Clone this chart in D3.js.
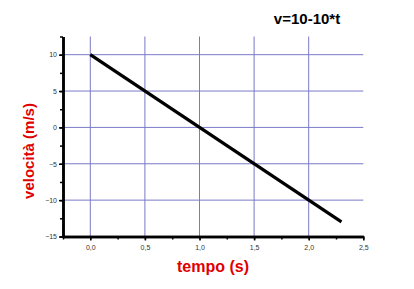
<!DOCTYPE html>
<html><head><meta charset="utf-8">
<script src="https://cdn.jsdelivr.net/npm/d3@7"></script>
<style>body{margin:0;background:#fff;} svg{display:block;}</style>
</head><body>
<svg id="c" width="414" height="289"></svg>
<script>
const tValues = [0, 2.3];
const vValues = [10, -13];
const xTicks = [0, 0.5, 1, 1.5, 2, 2.5];
const yTicks = [-15, -10, -5, 0, 5, 10];
const xGrid = [0, 0.5, 1, 1.5, 2];
const yGrid = [-10, -5, 0, 5, 10];
const title = "v=10-10*t";
const xLabel = "tempo (s)";
const yLabel = "velocità (m/s)";

const svg = d3.select("#c");
const x = d3.scaleLinear().domain([-0.25, 2.5]).range([63, 363.3]);
const y = d3.scaleLinear().domain([-15, 12.5]).range([236.5, 36.5]);
const fmt = d => d3.format(".1f")(d).replace(".", ",");

// grid
svg.append("g").selectAll("line").data(xGrid).join("line")
  .attr("x1", d => x(d)).attr("x2", d => x(d))
  .attr("y1", y(12.5)).attr("y2", y(-15))
  .attr("stroke", "#7a7ac8").attr("stroke-width", 1);
svg.append("g").selectAll("line").data(yGrid).join("line")
  .attr("x1", x(-0.25)).attr("x2", x(2.5))
  .attr("y1", d => y(d)).attr("y2", d => y(d))
  .attr("stroke", "#7a7ac8").attr("stroke-width", 1);

// axes
const xAxis = d3.axisBottom(x).tickValues(xTicks).tickFormat(fmt).tickSize(4).tickSizeOuter(0).tickPadding(5);
const xMinor = d3.axisBottom(x).tickValues(d3.range(-0.25, 2.51, 0.25)).tickFormat("").tickSize(3).tickSizeOuter(0);
const yAxis = d3.axisLeft(y).tickValues(yTicks).tickFormat(d => d3.format("d")(d)).tickSize(4).tickSizeOuter(0).tickPadding(2);
const yMinor = d3.axisLeft(y).tickValues(d3.range(-15, 12.6, 2.5)).tickFormat("").tickSize(3).tickSizeOuter(0);

function style(g){
  g.select(".domain").attr("stroke", "#000").attr("stroke-width", 2.5);
  g.selectAll(".tick line").attr("stroke", "#000").attr("stroke-width", 1.5);
  g.selectAll(".tick text").attr("fill", "#333").attr("font-size", 7).attr("font-family", "Liberation Sans, Arial, sans-serif");
}
svg.append("g").attr("transform", `translate(0,${y(-15)})`).call(xMinor).call(style);
svg.append("g").attr("transform", `translate(0,${y(-15)})`).call(xAxis).call(style);
svg.append("g").attr("transform", `translate(${x(-0.25)},0)`).call(yMinor).call(style);
svg.append("g").attr("transform", `translate(${x(-0.25)},0)`).call(yAxis).call(style);

// line
const pts = tValues.map((t, i) => [t, vValues[i]]);
svg.append("path").datum(pts)
  .attr("d", d3.line().x(d => x(d[0])).y(d => y(d[1])))
  .attr("fill", "none").attr("stroke", "#000").attr("stroke-width", 3.2);

// labels
svg.append("text").attr("x", 307).attr("y", 24).attr("text-anchor", "middle")
  .attr("font-family", "Liberation Sans, Arial, sans-serif").attr("font-weight", "bold")
  .attr("font-size", 15).attr("fill", "#000").text(title);
svg.append("text").attr("x", 213).attr("y", 272).attr("text-anchor", "middle")
  .attr("font-family", "Liberation Sans, Arial, sans-serif").attr("font-weight", "bold")
  .attr("font-size", 16).attr("fill", "#e00000").text(xLabel);
svg.append("text").attr("transform", "translate(34,151) rotate(-90)").attr("text-anchor", "middle")
  .attr("font-family", "Liberation Sans, Arial, sans-serif").attr("font-weight", "bold")
  .attr("font-size", 15).attr("fill", "#e00000").text(yLabel);
</script>
</body></html>
